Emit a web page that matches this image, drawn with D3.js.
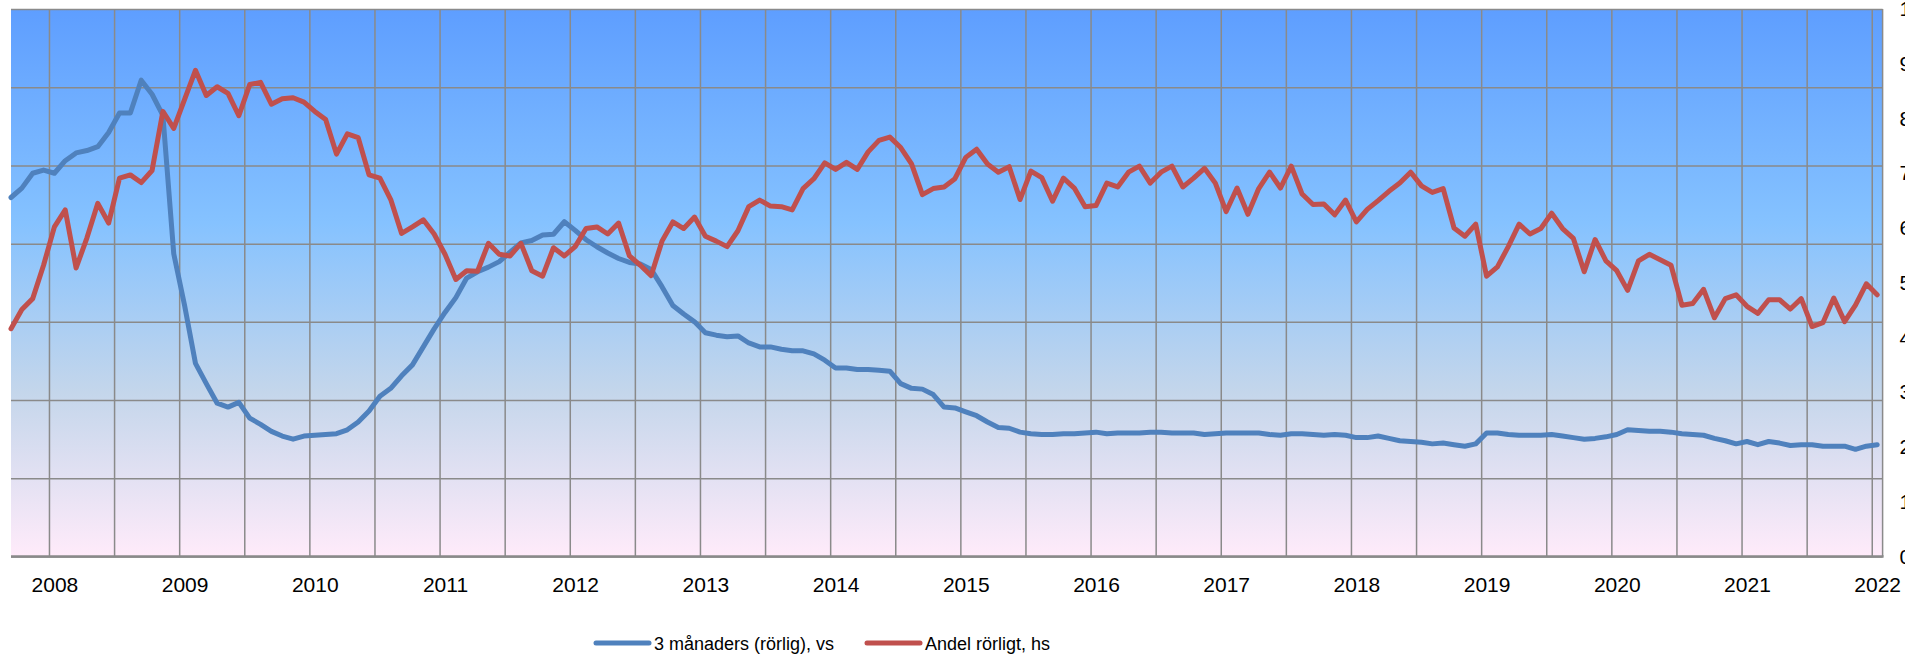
<!DOCTYPE html>
<html>
<head>
<meta charset="utf-8">
<script src="https://cdn.jsdelivr.net/npm/d3@7"></script>
<style>
  body { margin: 0; background: #fff; }
  svg { display: block; }
  text { font-family: 'Liberation Sans', Arial, sans-serif; fill: #000; }
</style>
</head>
<body>
<div class="chart"></div>
<script>
// monthly observations, Sep 2007 - Jan 2022
const months = d3.timeMonths(new Date(2007, 8, 1), new Date(2022, 1, 1));

// 3 månaders (rörlig) rate, %, left axis
const rate3m = [
  4.59, 4.71, 4.90, 4.94, 4.90, 5.06, 5.16, 5.19, 5.24, 5.42,
  5.67, 5.67, 6.09, 5.91, 5.64, 3.87, 3.21, 2.47, 2.21, 1.96,
  1.91, 1.97, 1.77, 1.69, 1.60, 1.54, 1.50, 1.54, 1.55, 1.56,
  1.57, 1.62, 1.72, 1.86, 2.05, 2.15, 2.31, 2.45, 2.68, 2.91,
  3.12, 3.31, 3.56, 3.64, 3.70, 3.77, 3.89, 4.01, 4.04, 4.11,
  4.12, 4.28, 4.17, 4.05, 3.96, 3.88, 3.81, 3.76, 3.74, 3.67,
  3.45, 3.21, 3.10, 3.00, 2.86, 2.83, 2.81, 2.82, 2.73, 2.68,
  2.68, 2.65, 2.63, 2.63, 2.59, 2.51, 2.41, 2.41, 2.39, 2.39,
  2.38, 2.37, 2.21, 2.15, 2.14, 2.07, 1.91, 1.90, 1.85, 1.80,
  1.72, 1.65, 1.64, 1.59, 1.57, 1.56, 1.56, 1.57, 1.57, 1.58,
  1.59, 1.57, 1.58, 1.58, 1.58, 1.59, 1.59, 1.58, 1.58, 1.58,
  1.56, 1.57, 1.58, 1.58, 1.58, 1.58, 1.56, 1.55, 1.57, 1.57,
  1.56, 1.55, 1.56, 1.55, 1.52, 1.52, 1.54, 1.51, 1.48, 1.47,
  1.46, 1.44, 1.45, 1.43, 1.41, 1.44, 1.58, 1.58, 1.56, 1.55,
  1.55, 1.55, 1.56, 1.54, 1.52, 1.50, 1.51, 1.53, 1.56, 1.62,
  1.61, 1.60, 1.60, 1.59, 1.57, 1.56, 1.55, 1.51, 1.48, 1.44,
  1.47, 1.43, 1.47, 1.45, 1.42, 1.43, 1.43, 1.41, 1.41, 1.41,
  1.37, 1.41, 1.43
];

// Andel rörligt, %, right axis
const shareVariable = [
  41.6, 45.1, 47.1, 53.2, 60.2, 63.3, 52.7, 58.2, 64.5, 60.9,
  69.1, 69.7, 68.3, 70.5, 81.3, 78.2, 83.5, 88.8, 84.2, 85.8,
  84.6, 80.5, 86.2, 86.6, 82.6, 83.6, 83.8, 83.0, 81.3, 79.8,
  73.5, 77.2, 76.5, 69.7, 69.1, 65.2, 59.0, 60.2, 61.5, 58.9,
  55.2, 50.6, 52.2, 52.1, 57.2, 55.2, 54.9, 57.2, 52.2, 51.2,
  56.4, 54.9, 56.6, 59.9, 60.2, 58.9, 60.9, 54.9, 53.2, 51.3,
  57.6, 61.1, 59.9, 62.0, 58.5, 57.6, 56.6, 59.5, 63.9, 65.1,
  64.0, 63.9, 63.3, 67.2, 69.0, 71.9, 70.7, 72.0, 70.7, 73.9,
  76.0, 76.6, 74.7, 71.7, 66.1, 67.2, 67.5, 69.0, 72.9, 74.4,
  71.7, 70.2, 71.2, 65.2, 70.4, 69.2, 64.9, 69.1, 67.3, 63.9,
  64.1, 68.2, 67.5, 70.2, 71.3, 68.2, 70.2, 71.3, 67.5, 69.1,
  70.9, 68.2, 63.0, 67.3, 62.5, 67.2, 70.2, 67.3, 71.3, 66.2,
  64.3, 64.4, 62.4, 65.1, 61.1, 63.4, 65.0, 66.7, 68.2, 70.2,
  67.7, 66.5, 67.2, 60.0, 58.5, 60.7, 51.2, 52.9, 56.6, 60.7,
  58.9, 59.9, 62.7, 59.9, 58.1, 52.0, 57.9, 54.0, 52.2, 48.6,
  54.0, 55.2, 54.2, 53.2, 45.9, 46.2, 48.8, 43.6, 47.1, 47.8,
  45.7, 44.4, 46.9, 46.9, 45.2, 47.1, 42.0, 42.7, 47.2, 42.9,
  45.9, 49.8, 47.8
];

const yearLabels = ['2008', '2009', '2010', '2011', '2012', '2013', '2014', '2015',
  '2016', '2017', '2018', '2019', '2020', '2021', '2022'];
const leftTicks = [0, 1, 2, 3, 4, 5, 6, 7];
const rightTicks = [0, 10, 20, 30, 40, 50, 60, 70, 80, 90, 100];
const seriesNames = ['3 månaders (rörlig), vs', 'Andel rörligt, hs'];

const W = 1905, H = 657;
const plot = {left: 11, right: 1882.6, top: 9, bottom: 556.5};
const colors = ['#4f81bd', '#c0504d'];

const svg = d3.select('.chart')
  .append('svg')
  .attr('width', W)
  .attr('height', H);

const grad = svg.append('defs')
  .append('linearGradient')
  .attr('id', 'bg')
  .attr('x1', 0).attr('y1', 0).attr('x2', 0).attr('y2', 1);
[[0, '#5e9eff'], [0.39, '#85c2ff'], [0.7, '#c4d6eb'], [1, '#ffebfa']].forEach(s => {
  grad.append('stop').attr('offset', s[0]).attr('stop-color', s[1]);
});

const xScale = d3.scaleLinear()
  .domain([0, months.length - 0.5])
  .range([plot.left, plot.right]);
const yLeft = d3.scaleLinear().domain([0, 7]).range([plot.bottom, plot.top]);
const yRight = d3.scaleLinear().domain([0, 100]).range([plot.bottom, plot.top]);

svg.append('rect')
  .attr('x', plot.left)
  .attr('y', plot.top)
  .attr('width', plot.right - plot.left)
  .attr('height', plot.bottom - plot.top)
  .attr('fill', 'url(#bg)');

// horizontal gridlines (left axis)
svg.append('g')
  .attr('class', 'hgrid')
  .attr('transform', `translate(${plot.left},0)`)
  .call(d3.axisLeft(yLeft).tickValues(leftTicks).tickSize(-(plot.right - plot.left)).tickFormat(''))
  .call(g => g.select('.domain').remove())
  .selectAll('line')
  .attr('stroke', '#8a8a8a')
  .attr('stroke-width', 1.5);

// vertical gridlines every half year, between categories
const halfYears = months.map((m, i) => i).filter(i => months[i].getMonth() % 6 === 0);
svg.append('g')
  .attr('class', 'vgrid')
  .attr('transform', `translate(0,${plot.bottom})`)
  .call(d3.axisBottom(xScale).tickValues(halfYears.map(i => i - 0.5))
    .tickSize(-(plot.bottom - plot.top)).tickFormat(''))
  .call(g => g.select('.domain').remove())
  .selectAll('line')
  .attr('stroke', '#8a8a8a')
  .attr('stroke-width', 1.5);

// plot frame
svg.append('line')
  .attr('x1', plot.right).attr('x2', plot.right)
  .attr('y1', plot.top).attr('y2', plot.bottom)
  .attr('stroke', '#8a8a8a').attr('stroke-width', 1.5);
svg.append('line')
  .attr('x1', plot.left).attr('x2', plot.right + 1)
  .attr('y1', plot.bottom).attr('y2', plot.bottom)
  .attr('stroke', '#8a8a8a').attr('stroke-width', 2.5);

// year labels under January of each year
const janIdx = yearLabels.map(y => months.findIndex(m => m.getFullYear() === +y && m.getMonth() === 0));
svg.append('g')
  .attr('transform', `translate(0,${plot.bottom})`)
  .call(d3.axisBottom(xScale).tickValues(janIdx).tickSize(0).tickPadding(21)
    .tickFormat((d, i) => yearLabels[i]))
  .call(g => g.select('.domain').remove())
  .selectAll('text')
  .style('font-size', '21px')
  .style('font-family', "'Liberation Sans', Arial, sans-serif")
  .attr('fill', '#000');

// right axis labels (partly outside the picture, as in the source)
svg.append('g')
  .attr('transform', `translate(${plot.right},0)`)
  .call(d3.axisRight(yRight).tickValues(rightTicks).tickSize(0).tickPadding(17))
  .call(g => g.select('.domain').remove())
  .selectAll('text')
  .style('font-size', '21px')
  .style('font-family', "'Liberation Sans', Arial, sans-serif")
  .attr('fill', '#000');

const lineLeft = d3.line().x((d, i) => xScale(i)).y(d => yLeft(d));
const lineRight = d3.line().x((d, i) => xScale(i)).y(d => yRight(d));

svg.append('path')
  .datum(rate3m)
  .attr('d', lineLeft)
  .attr('fill', 'none')
  .attr('stroke', colors[0])
  .attr('stroke-width', 5)
  .attr('stroke-linejoin', 'round')
  .attr('stroke-linecap', 'round');

svg.append('path')
  .datum(shareVariable)
  .attr('d', lineRight)
  .attr('fill', 'none')
  .attr('stroke', colors[1])
  .attr('stroke-width', 5)
  .attr('stroke-linejoin', 'round')
  .attr('stroke-linecap', 'round');

// legend
const legendX = [596, 867];
const legend = svg.append('g').attr('transform', 'translate(0,643)');
seriesNames.forEach((name, i) => {
  const g = legend.append('g').attr('transform', `translate(${legendX[i]},0)`);
  g.append('line')
    .attr('x1', 0).attr('x2', 53)
    .attr('stroke', colors[i])
    .attr('stroke-width', 5)
    .attr('stroke-linecap', 'round');
  g.append('text')
    .attr('x', 58)
    .attr('y', 6.5)
    .style('font-size', '18px')
    .text(name);
});
</script>
</body>
</html>
